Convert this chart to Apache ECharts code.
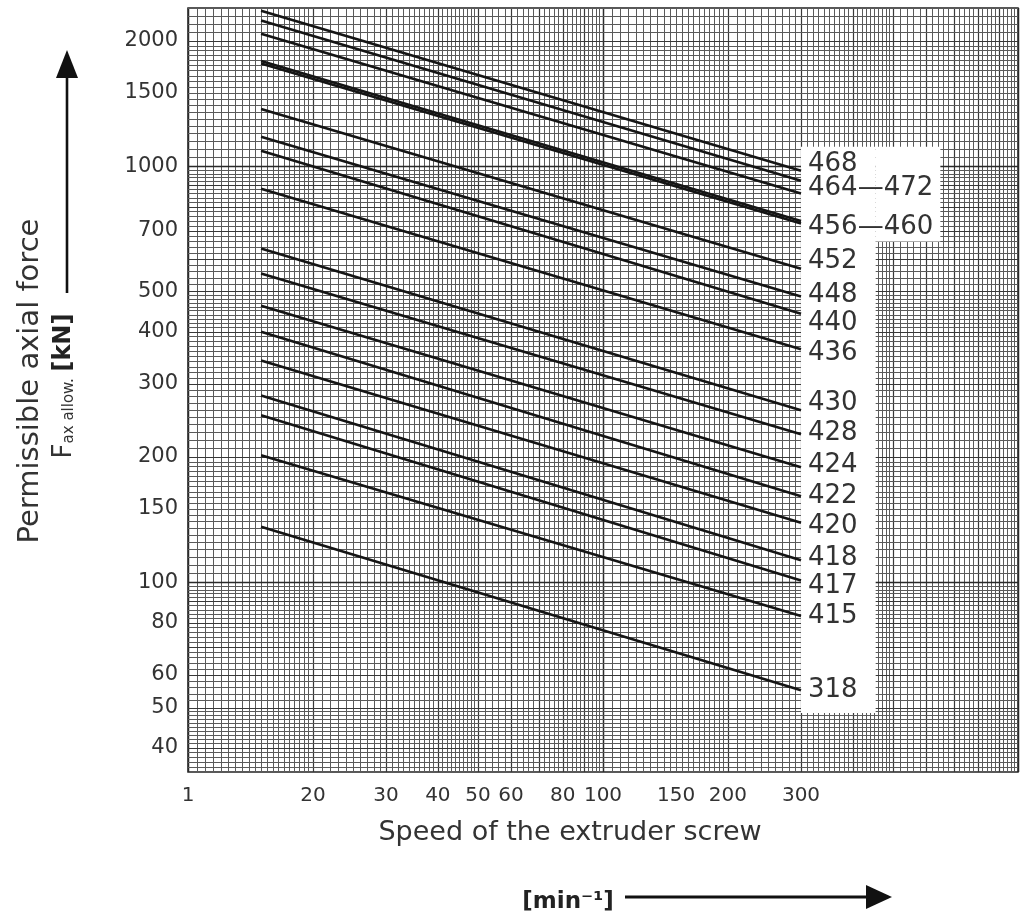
<!DOCTYPE html>
<html>
<head>
<meta charset="utf-8">
<script src="https://cdn.jsdelivr.net/npm/echarts@6/dist/echarts.min.js"></script>
<style>
  html, body { margin: 0; padding: 0; background: #fff; }
  #chart { width: 1025px; height: 921px; }
</style>
</head>
<body>
<div id="chart"></div>
<script>
// axis ranges of the log paper
const speedMin = 10, speedMax = 1000;
const forceMin = 35, forceMax = 2400;

// tick labels
const speedTicks = [10, 20, 30, 40, 50, 60, 80, 100, 150, 200, 300];
const speedTickLabels = ['1', '20', '30', '40', '50', '60', '80', '100', '150', '200', '300'];
const forceTicks = [40, 50, 60, 80, 100, 150, 200, 300, 400, 500, 700, 1000, 1500, 2000];

// curves: permissible force at n = 15 and n = 300 min^-1
const curveNames = ['468', '472', '464', '460', '456', '452', '448', '440', '436',
  '430', '428', '424', '422', '420', '418', '417', '415', '318'];
const speedEnds = [15, 300];
const forceAt15 = [2365, 2240, 2080, 1765, 1790, 1373, 1177, 1089, 883,
  634, 552, 462, 400, 341, 281, 252, 202, 136];
const forceAt300 = [975, 923, 860, 728, 738, 567, 486, 442, 363,
  259, 227, 189, 161, 139, 113, 101, 83, 55];

// label text / vertical nudge for each curve end (null = no label)
const endLabels = {
  '468': ['468', -7], '472': null, '464': ['464\u2014472', -5], '460': null,
  '456': ['456\u2014460', 6], '452': ['452', -7], '448': ['448', -1], '440': ['440', 10],
  '436': ['436', 4], '430': ['430', -7], '428': ['428', -1], '424': ['424', -2],
  '422': ['422', 0], '420': ['420', 3], '418': ['418', -2], '417': ['417', 6],
  '415': ['415', 0], '318': ['318', 0]
};

// graph paper rulings: 1-2 by .05, 2-5 by .1, 5-10 by .2 per decade
function paperValues(lo, hi) {
  const out = [];
  for (let d = 1; d <= 1000; d *= 10) {
    for (let k = 100; k < 1000; k += k < 200 ? 5 : k < 500 ? 10 : 20) {
      const v = k * d / 100;
      if (v < lo || v > hi) continue;
      out.push([v, k === 100 ? 2 : k % 100 === 0 ? 1 : 0]);
    }
  }
  return out;
}
const paperStyle = [
  { color: '#5a5a5a', width: 1 },
  { color: '#383838', width: 1.2 },
  { color: '#2a2a2a', width: 1.5 }
];
const font = '"DejaVu Sans", "Liberation Sans", sans-serif';

const chart = echarts.init(document.getElementById('chart'));

const gridSeries = [
  {
    type: 'custom',
    silent: true,
    z: 1,
    encode: { x: 0, y: 1 },
    data: paperValues(speedMin, speedMax).map(p => [p[0], forceMin, p[1]]),
    renderItem(params, api) {
      const v = api.value(0);
      const a = api.coord([v, forceMax]);
      const b = api.coord([v, forceMin]);
      const s = paperStyle[api.value(2)];
      const x = Math.round(a[0]) + 0.5;
      return { type: 'line', shape: { x1: x, y1: a[1], x2: x, y2: b[1] },
        style: { stroke: s.color, lineWidth: s.width } };
    }
  },
  {
    type: 'custom',
    silent: true,
    z: 1,
    encode: { x: 0, y: 1 },
    data: paperValues(forceMin, forceMax).map(p => [speedMin, p[0], p[1]]),
    renderItem(params, api) {
      const v = api.value(1);
      const a = api.coord([speedMin, v]);
      const b = api.coord([speedMax, v]);
      const s = paperStyle[api.value(2)];
      const y = Math.round(a[1]) + 0.5;
      return { type: 'line', shape: { x1: a[0], y1: y, x2: b[0], y2: y },
        style: { stroke: s.color, lineWidth: s.width } };
    }
  }
];

// white label panel on the right
const panelSeries = {
  type: 'custom',
  silent: true,
  z: 2,
  encode: { x: 0, y: 1 },
  data: [[300, 1113, 454, 48.5], [454, 1113, 650, 659]],
  renderItem(params, api) {
    const p1 = api.coord([api.value(0), api.value(1)]);
    const p2 = api.coord([api.value(2), api.value(3)]);
    return { type: 'rect', shape: { x: p1[0], y: p1[1], width: p2[0] - p1[0], height: p2[1] - p1[1] },
      style: { fill: '#fff' } };
  }
};

const tickSeries = [
  {
    type: 'custom',
    silent: true,
    z: 4,
    encode: { x: 0, y: 1 },
    data: speedTicks.map(v => [v, forceMin]),
    renderItem(params, api) {
      const p = api.coord([api.value(0), forceMin]);
      return { type: 'text', x: p[0], y: p[1] + 24,
        style: { text: speedTickLabels[params.dataIndex], fill: '#333', font: '20px ' + font,
          align: 'center', verticalAlign: 'middle' } };
    }
  },
  {
    type: 'custom',
    silent: true,
    z: 4,
    encode: { x: 0, y: 1 },
    data: forceTicks.map(v => [speedMin, v]),
    renderItem(params, api) {
      const p = api.coord([speedMin, api.value(1)]);
      return { type: 'text', x: p[0] - 10, y: p[1],
        style: { text: String(forceTicks[params.dataIndex]), fill: '#333', font: '21px ' + font,
          align: 'right', verticalAlign: 'middle' } };
    }
  }
];

const curveSeries = curveNames.map((name, i) => {
  const lab = endLabels[name];
  return {
    name,
    type: 'line',
    z: 3,
    showSymbol: false,
    silent: true,
    data: [[speedEnds[0], forceAt15[i]], [speedEnds[1], forceAt300[i]]],
    lineStyle: { color: '#151515', width: 2.6 },
    endLabel: lab ? {
      show: true,
      formatter: lab[0],
      distance: 7,
      offset: [0, lab[1]],
      color: '#333',
      fontSize: 26,
      fontFamily: 'DejaVu Sans'
    } : { show: false }
  };
});

chart.setOption({
  animation: false,
  backgroundColor: '#fff',
  grid: { left: 188, right: 7, top: 8, bottom: 149, show: true, borderColor: '#222', borderWidth: 1.5 },
  xAxis: {
    type: 'log', logBase: 10, min: speedMin, max: speedMax,
    axisLine: { show: false }, axisTick: { show: false }, axisLabel: { show: false }, splitLine: { show: false }
  },
  yAxis: {
    type: 'log', logBase: 10, min: forceMin, max: forceMax,
    axisLine: { show: false }, axisTick: { show: false }, axisLabel: { show: false }, splitLine: { show: false }
  },
  graphic: [
    { type: 'text', x: 30, y: 381, rotation: Math.PI / 2,
      style: { text: 'Permissible axial force', font: '29px ' + font, fill: '#333',
        align: 'center', verticalAlign: 'middle' } },
    { type: 'text', x: 64, y: 386, rotation: Math.PI / 2,
      style: { text: '{f|F}{s|ax allow.}  {b|[kN]}', align: 'center', verticalAlign: 'middle',
        rich: {
          f: { fontSize: 26, fontFamily: 'DejaVu Sans', fill: '#333', color: '#333' },
          s: { fontSize: 15, fontFamily: 'DejaVu Sans', fill: '#333', color: '#333', verticalAlign: 'bottom' },
          b: { fontSize: 24, fontWeight: 'bold', fontFamily: 'DejaVu Sans', fill: '#222', color: '#222' }
        } } },
    { type: 'line', shape: { x1: 67, y1: 293, x2: 67, y2: 72 }, style: { stroke: '#111', lineWidth: 2.6 } },
    { type: 'polygon', shape: { points: [[67, 50], [56, 78], [78, 78]] }, style: { fill: '#111' } },
    { type: 'text', x: 570, y: 833,
      style: { text: 'Speed of the extruder screw', font: '27px ' + font, fill: '#333',
        align: 'center', verticalAlign: 'middle' } },
    { type: 'text', x: 568, y: 902,
      style: { text: '[min\u207B\u00B9]', font: 'bold 23px ' + font, fill: '#222',
        align: 'center', verticalAlign: 'middle' } },
    { type: 'line', shape: { x1: 625, y1: 897, x2: 870, y2: 897 }, style: { stroke: '#111', lineWidth: 3 } },
    { type: 'polygon', shape: { points: [[892, 897], [866, 885], [866, 909]] }, style: { fill: '#111' } }
  ],
  series: [...gridSeries, panelSeries, ...tickSeries, ...curveSeries]
});
</script>
</body>
</html>
